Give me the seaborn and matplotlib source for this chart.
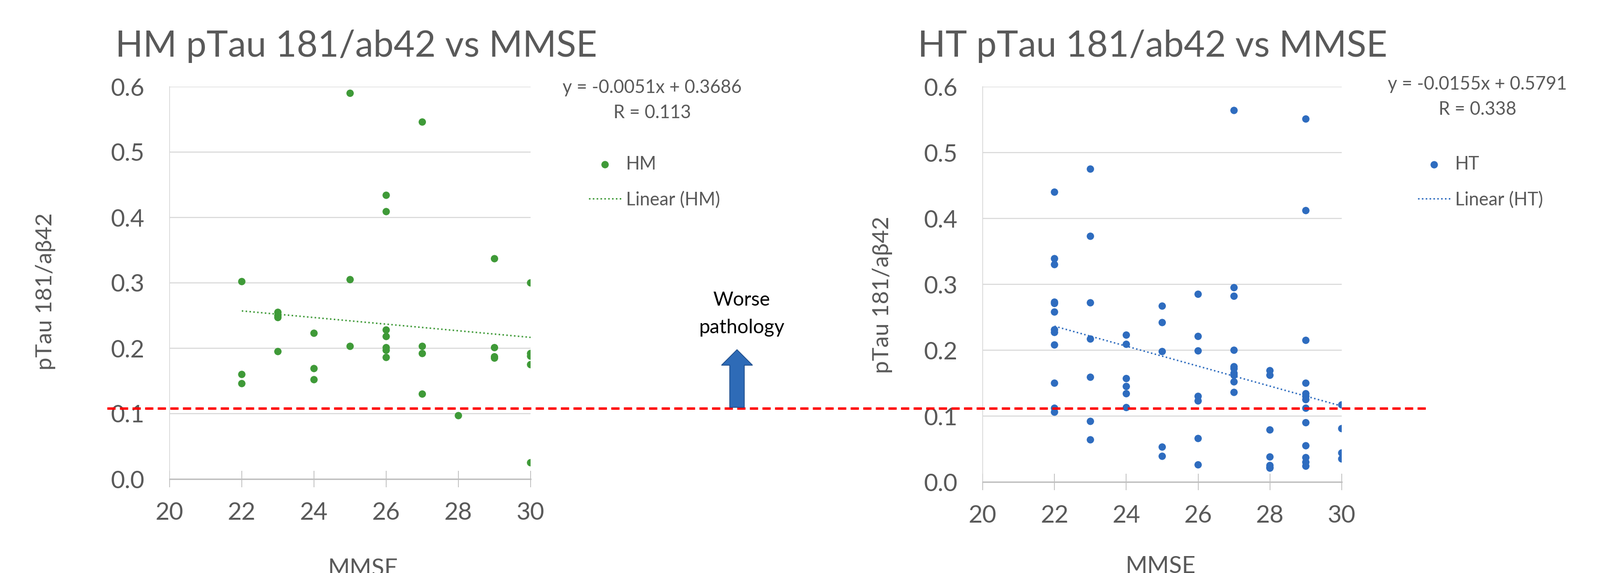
import numpy as np
import pandas as pd
import matplotlib
matplotlib.use("Agg")
import matplotlib.pyplot as plt
import matplotlib.transforms as mtransforms
from matplotlib.lines import Line2D
from matplotlib.patches import FancyArrow
import seaborn as sns

# --- data ---
hm_mmse = [22, 22, 22,
           23, 23, 23, 23,
           24, 24, 24,
           25, 25, 25,
           26, 26, 26, 26, 26, 26, 26,
           27, 27, 27, 27,
           28,
           29, 29, 29, 29,
           30, 30, 30, 30, 30]
hm_ratio = [0.302, 0.160, 0.146,
            0.255, 0.250, 0.247, 0.195,
            0.223, 0.169, 0.152,
            0.590, 0.305, 0.203,
            0.434, 0.409, 0.228, 0.218, 0.201, 0.197, 0.186,
            0.546, 0.203, 0.192, 0.130,
            0.097,
            0.337, 0.201, 0.187, 0.185,
            0.300, 0.192, 0.188, 0.175, 0.025]

ht_mmse = [22] * 12 + [23] * 7 + [24] * 6 + [25] * 5 + [26] * 7 \
    + [27] * 10 + [28] * 7 + [29] * 13 + [30] * 4
ht_ratio = [0.440, 0.339, 0.330, 0.273, 0.271, 0.258, 0.231, 0.227, 0.208, 0.150, 0.112, 0.106,
            0.475, 0.373, 0.272, 0.217, 0.159, 0.092, 0.064,
            0.223, 0.209, 0.157, 0.145, 0.134, 0.113,
            0.267, 0.242, 0.198, 0.053, 0.039,
            0.285, 0.221, 0.199, 0.130, 0.123, 0.066, 0.026,
            0.564, 0.295, 0.282, 0.200, 0.175, 0.172, 0.165, 0.162, 0.152, 0.136,
            0.169, 0.162, 0.079, 0.038, 0.025, 0.022, 0.021,
            0.551, 0.412, 0.215, 0.150, 0.134, 0.130, 0.125, 0.112, 0.090, 0.055, 0.037, 0.030, 0.024,
            0.117, 0.081, 0.044, 0.035]

hm_eq = "y = -0.0051x + 0.3686\nR = 0.113"
ht_eq = "y = -0.0155x + 0.5791\nR = 0.338"
threshold = 0.108

x_ticks = [20, 22, 24, 26, 28, 30]
y_ticks = [0.0, 0.1, 0.2, 0.3, 0.4, 0.5, 0.6]

GREEN = "#3F9A38"
BLUE = "#2E6CBF"
GREY = "#595959"

sns.set_theme(style="white")
plt.rcParams["font.family"] = ["Lato", "DejaVu Sans"]

W, H = 3302, 1183
fig = plt.figure(figsize=(W / 100, H / 100), dpi=100)


def px_axes(x0, x1, ytop, ybot):
    return fig.add_axes([x0 / W, 1 - ybot / H, (x1 - x0) / W, (ybot - ytop) / H])


ax1 = px_axes(350, 1095, 179, 989)
ax2 = px_axes(2028, 2769, 179, 995)

df_hm = pd.DataFrame({"MMSE": hm_mmse, "ratio": hm_ratio})
df_ht = pd.DataFrame({"MMSE": ht_mmse, "ratio": ht_ratio})

# ax, data, colour, name, equation, eq x/y, legend x/y, ylabel x/y, xlabel x/y
panels = [
    (ax1, df_hm, GREEN, "HM", hm_eq, (1.337, 0.965), (1.161, 0.825),
     (-0.315, 0.478), (0.535, -0.201)),
    (ax2, df_ht, BLUE, "HT", ht_eq, (1.378, 0.974), (1.212, 0.826),
     (-0.251, 0.474), (0.495, -0.186)),
]

for ax, df, col, name, eq, eqxy, legxy, ylxy, xlxy in panels:
    sns.scatterplot(data=df, x="MMSE", y="ratio", ax=ax, color=col, s=120,
                    edgecolor="none", zorder=3, label=name)
    sns.regplot(data=df, x="MMSE", y="ratio", ax=ax, scatter=False, ci=None,
                truncate=True, color=col, label=f"Linear ({name})",
                line_kws={"lw": 2.2, "linestyle": (0, (1, 1.6))})

    ax.set_xlim(20, 30)
    ax.set_ylim(0, 0.6)
    ax.set_xticks(x_ticks)
    ax.set_yticks(y_ticks)
    ax.set_yticklabels([f"{v:.1f}" for v in y_ticks])
    ax.grid(axis="y", color="#D9D9D9", lw=1.6)
    ax.set_axisbelow(True)
    for s in ["top", "right"]:
        ax.spines[s].set_visible(False)
    ax.spines["left"].set_color("#D9D9D9")
    ax.spines["left"].set_linewidth(1.2)
    ax.spines["bottom"].set_color("#BFBFBF")
    ax.spines["bottom"].set_linewidth(2)
    ax.tick_params(axis="x", direction="inout", length=24, width=1.2,
                   color="#BFBFBF", bottom=True, pad=22, labelsize=36, labelcolor=GREY)
    ax.tick_params(axis="y", length=0, pad=37, labelsize=36, labelcolor=GREY)

    ax.set_xlabel("MMSE", fontsize=35, color=GREY, va="top")
    ax.xaxis.set_label_coords(*xlxy)
    ax.set_ylabel("pTau 181/aβ42", fontsize=34, color=GREY)
    ax.yaxis.set_label_coords(*ylxy)

    ax.legend(loc="upper left", bbox_to_anchor=legxy, frameon=False,
              fontsize=27, handlelength=1.8, handletextpad=0.25, labelspacing=1.0,
              borderaxespad=0, borderpad=0, labelcolor=GREY, markerscale=1.0)
    ax.text(eqxy[0], eqxy[1], eq, transform=ax.transAxes, ha="center", va="center",
            fontsize=27, color=GREY, linespacing=1.55)

fig.text(238 / W, 1 - 117 / H, "HM pTau 181/ab42 vs MMSE", fontsize=54,
         color=GREY, va="baseline", ha="left")
fig.text(1894 / W, 1 - 117 / H, "HT pTau 181/ab42 vs MMSE", fontsize=54,
         color=GREY, va="baseline", ha="left")

# red threshold line across both panels
fig.canvas.draw()
y_disp = ax1.transData.transform((20, threshold))[1]
y_fig = y_disp / H
fig.add_artist(Line2D([221 / W, 2943 / W], [y_fig, y_fig], transform=fig.transFigure,
                      color="#FF0000", lw=3.6, linestyle=(0, (3.4, 1.8)), zorder=10))

# "Worse pathology" arrow
ident = mtransforms.IdentityTransform()
fig.add_artist(FancyArrow(1521, H - 841, 0, 119, width=30, head_width=64, head_length=32,
                          length_includes_head=True, transform=ident,
                          facecolor="#2E6BB7", edgecolor="#1F4E8C", lw=1.2, zorder=10))
fig.text(1530 / W, 1 - 648 / H, "Worse\npathology", ha="center", va="center",
         fontsize=29, color="black", linespacing=1.65)

fig.savefig("out.png", dpi=100)
